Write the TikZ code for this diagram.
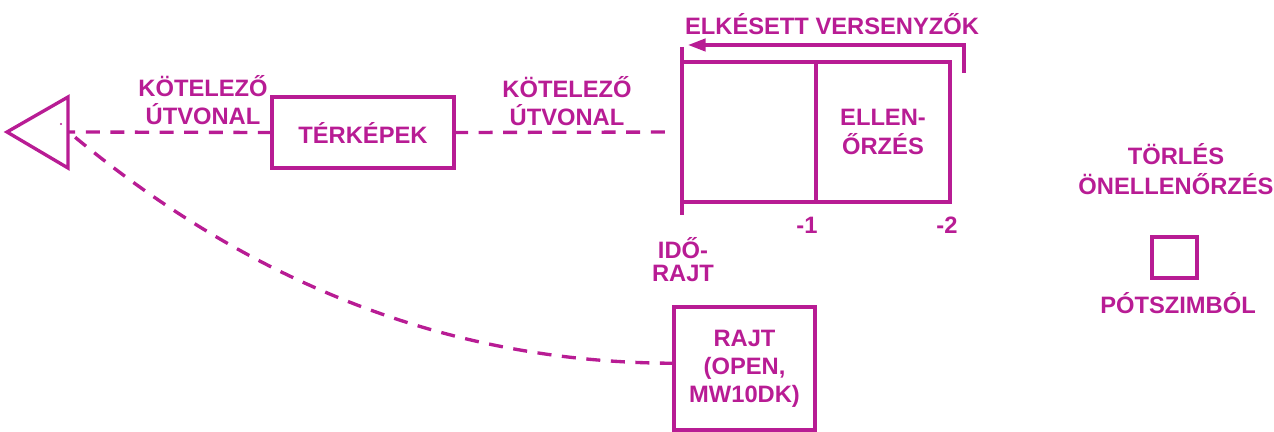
\documentclass[tikz,border=0pt]{standalone}
\usepackage{fontspec}
\setmainfont{Liberation Sans}
\usetikzlibrary{arrows.meta}
\definecolor{mag}{RGB}{184,28,148}

\begin{document}
\begin{tikzpicture}[x=0.02cm, y=-0.02cm, color=mag, line width=1.9pt,
    lbl/.style={align=center, font=\bfseries\fontsize{13.5}{16}\selectfont},
    box/.style={draw, rectangle, inner sep=0pt, outer sep=0pt, lbl},
    route/.style={dash pattern=on 8pt off 6pt}]
\useasboundingbox (0,0) rectangle (1274,432);

% target
\draw[line join=miter] (68,97) -- (7,132) -- (68,168) -- cycle;
\fill (61,124) circle (0.6pt);
\coordinate (goal) at (68,132);

\node[box, minimum width=3.64cm, minimum height=1.42cm] (maps) at (363,132.5) {TÉRKÉPEK};
\node[box, minimum width=2.68cm, minimum height=2.8cm] (late) at (749,132) {};
\node[box, minimum width=2.68cm, minimum height=2.8cm] (check) at (883,132) {ELLEN-\\ŐRZÉS};
\draw (682,47) -- (682,215);
\draw[-{Triangle[length=10pt,width=7pt]}] (964,73) |- (688,45);

\node[lbl] at (832,24) {ELKÉSETT VERSENYZŐK};
\node[lbl] at (203,100) {KÖTELEZŐ\\ÚTVONAL};
\node[lbl] at (567,101) {KÖTELEZŐ\\ÚTVONAL};
\node[lbl] at (807,225) {-1};
\node[lbl] at (947,225) {-2};
\node[lbl, font=\bfseries\fontsize{13.5}{13}\selectfont] at (683,260) {IDŐ-\\RAJT};

\node[box, minimum width=2.82cm, minimum height=2.46cm] (rajt) at (744.5,368.5) {RAJT\\(OPEN,\\MW10DK)};

% legend
\node[lbl, font=\bfseries\fontsize{13.5}{17.5}\selectfont] at (1176,169) {TÖRLÉS\\ÖNELLENŐRZÉS};
\node[box, minimum width=0.9cm, minimum height=0.82cm] (spare) at (1174.5,257.5) {};
\node[lbl] at (1178,303) {PÓTSZIMBÓL};

\draw[route] (maps.west) -- (goal);
\draw[route, shorten >=5.5pt] (maps.east) -- (late.west);
\draw[route] ([yshift=3pt]rajt.west) .. controls (454,363) and (253,286) .. (70,133);
\end{tikzpicture}
\end{document}
